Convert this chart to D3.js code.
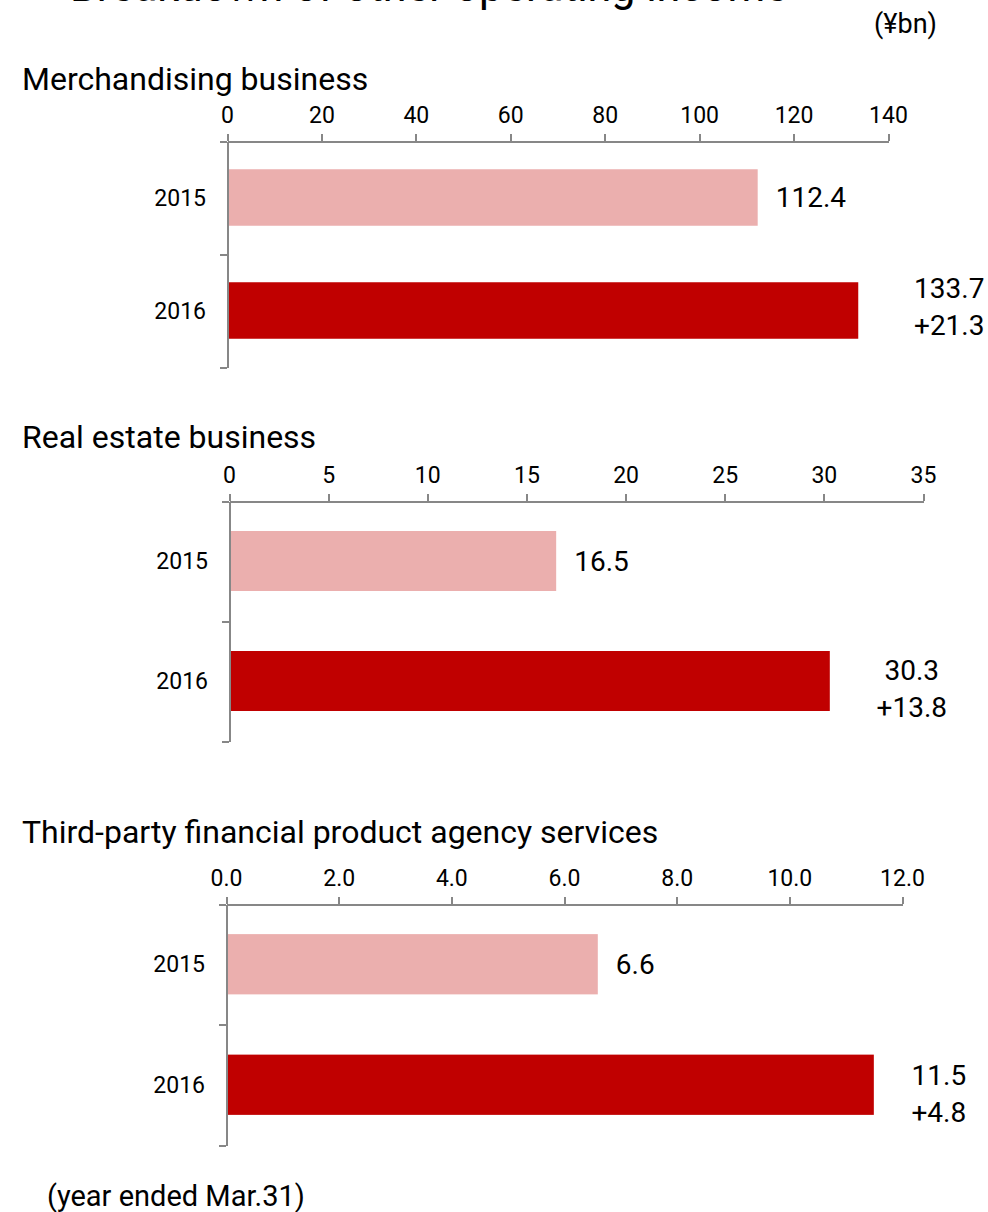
<!DOCTYPE html>
<html>
<head>
    <meta charset="UTF-8">
    <title>other operating income</title>
    <style>
        body {
            margin: 0;
            background: #fff;
        }
        svg text {
            font-family: Roboto, "Noto Sans", sans-serif;
            fill: #000;
        }
        .axis path, .axis line {
            stroke: #878787;
            stroke-width: 2px;
            shape-rendering: crispEdges;
        }
    </style>
</head>
<body>
<svg width="988" height="1212"></svg>
<script src="https://cdn.jsdelivr.net/npm/d3@7"></script>
<script>

    // data (¥bn)
    var years = ["2015", "2016"];
    var panelTitles = ["Merchandising business", "Real estate business", "Third-party financial product agency services"];
    var merchandising = [112.4, 133.7];
    var realEstate = [16.5, 30.3];
    var agency = [6.6, 11.5];
    var changes = ["+21.3", "+13.8", "+4.8"];
    var axisMax = [140, 35, 12];
    var axisStep = [20, 5, 2];
    var tickFormats = ["d", "d", ".1f"];

    var colors = ["#ebafae", "#c00000"];

    // where each panel sits on the page
    var layout = [
        {x0: 227, x1: 888, top: 141, bottom: 367, titleY: 90, dx: 91, dy: -13},
        {x0: 229, x1: 923, top: 501, bottom: 741, titleY: 448, dx: 82, dy: -1},
        {x0: 226, x1: 902, top: 904, bottom: 1145, titleY: 843, dx: 65, dy: 0}
    ];

    var series = [merchandising, realEstate, agency];

    var svg = d3.select("svg");

    // header, cut off at the top of the picture
    svg.append("text")
        .attr("x", 70)
        .attr("y", 1)
        .attr("font-size", 43)
        .text("Breakdown of other operating income");

    svg.append("text")
        .attr("x", 937)
        .attr("y", 33)
        .attr("text-anchor", "end")
        .attr("font-size", 27)
        .text("(¥bn)");

    series.forEach(function (values, p) {
        var L = layout[p];
        var g = svg.append("g");

        g.append("text")
            .attr("x", 22)
            .attr("y", L.titleY)
            .attr("font-size", 32)
            .text(panelTitles[p]);

        var x = d3.scaleLinear()
                .domain([0, axisMax[p]])
                .range([L.x0, L.x1]);

        var y = d3.scaleBand()
                .domain(years)
                .range([L.top, L.bottom])
                .paddingInner(0.5)
                .paddingOuter(0.25);

        // bars
        g.selectAll("rect")
            .data(values)
            .enter()
            .append("rect")
            .attr("x", x(0))
            .attr("y", function (d, i) { return y(years[i]); })
            .attr("width", function (d) { return x(d) - x(0); })
            .attr("height", y.bandwidth())
            .attr("fill", function (d, i) { return colors[i]; });

        // top value axis
        var ax = g.append("g")
            .attr("class", "axis")
            .attr("transform", "translate(0," + L.top + ")")
            .call(d3.axisTop(x)
                .tickValues(d3.range(0, axisMax[p] + axisStep[p] / 2, axisStep[p]))
                .tickFormat(d3.format(tickFormats[p]))
                .tickSize(7)
                .tickSizeOuter(0)
                .tickPadding(11));
        ax.selectAll("text")
            .attr("font-size", 23)
            .attr("fill", "#000");

        // category axis, ticks on band boundaries
        var yb = d3.scaleLinear().domain([0, years.length]).range([L.top, L.bottom]);
        g.append("g")
            .attr("class", "axis")
            .attr("transform", "translate(" + L.x0 + ",0)")
            .call(d3.axisLeft(yb)
                .tickValues(d3.range(0, years.length + 1))
                .tickFormat("")
                .tickSize(7)
                .tickSizeOuter(0));

        g.selectAll(".cat")
            .data(years)
            .enter()
            .append("text")
            .attr("class", "cat")
            .attr("x", L.x0 - 21)
            .attr("y", function (d) { return y(d) + y.bandwidth() / 2; })
            .attr("dy", "0.35em")
            .attr("text-anchor", "end")
            .attr("font-size", 23)
            .text(function (d) { return d; });

        // value labels
        g.append("text")
            .attr("x", x(values[0]) + 18)
            .attr("y", y(years[0]) + y.bandwidth() / 2)
            .attr("dy", "0.35em")
            .attr("font-size", 28)
            .text(values[0].toFixed(1));

        var cy = y(years[1]) + y.bandwidth() / 2 + L.dy;
        var lab = g.append("text")
            .attr("text-anchor", "middle")
            .attr("font-size", 28);
        lab.append("tspan")
            .attr("x", x(values[1]) + L.dx)
            .attr("y", cy)
            .text(values[1].toFixed(1));
        lab.append("tspan")
            .attr("x", x(values[1]) + L.dx)
            .attr("y", cy + 37)
            .text(changes[p]);
    });

    svg.append("text")
        .attr("x", 47)
        .attr("y", 1206)
        .attr("font-size", 29)
        .text("(year ended Mar.31)");

</script>
</body>
</html>
